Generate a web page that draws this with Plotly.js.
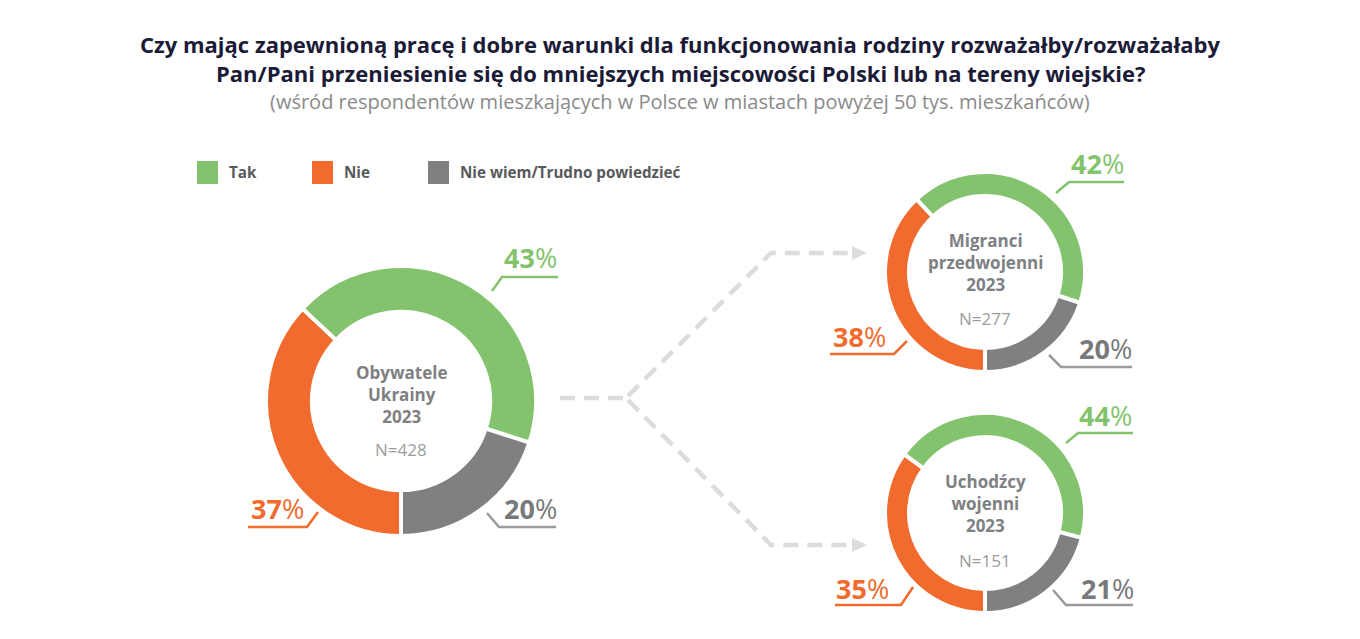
<!DOCTYPE html>
<html>
<head>
<meta charset="utf-8">
<script src="https://cdn.plot.ly/plotly-3.0.1.min.js"></script>
<style>
  html, body { margin: 0; padding: 0; background: #fff; }
  #chart { width: 1360px; height: 639px; }
</style>
</head>
<body>
<div id="chart"></div>
<script>
// Answer categories (legend order) and their colours
var categories = ["Tak", "Nie", "Nie wiem/Trudno powiedzieć"];
var catColors = ["#84c36e", "#f06b2d", "#7e8082"];

// Respondent groups
var groupNames = ["Obywatele<br>Ukrainy<br>2023", "Migranci<br>przedwojenni<br>2023", "Uchodźcy<br>wojenni<br>2023"];
var groupN = [428, 277, 151];

// Shares in % per group
var takValues = [43, 42, 44];
var nieValues = [37, 38, 35];
var nieWiemValues = [20, 20, 21];

var titleLines = [
  "Czy mając zapewnioną pracę i dobre warunki dla funkcjonowania rodziny rozważałby/rozważałaby",
  "Pan/Pani przeniesienie się do mniejszych miejscowości Polski lub na tereny wiejskie?"
];
var subtitle = "(wśród respondentów mieszkających w Polsce w miastach powyżej 50 tys. mieszkańców)";

var W = 1360, H = 639;
function px(x) { return x / W; }
function py(y) { return 1 - y / H; }

// donut placement (pixel centre, radius, hole)
var donuts = [
  {cx: 401, cy: 401, r: 135, hole: 0.66},
  {cx: 985, cy: 272, r: 100, hole: 0.76},
  {cx: 985, cy: 513, r: 100, hole: 0.76}
];

var data = donuts.map(function (d, i) {
  return {
    type: "pie",
    // clockwise from 6 o'clock: Nie, Tak, Nie wiem
    labels: [categories[1], categories[0], categories[2]],
    values: [nieValues[i], takValues[i], nieWiemValues[i]],
    marker: {colors: [catColors[1], catColors[0], catColors[2]], line: {color: "#fff", width: 4}},
    sort: false,
    direction: "clockwise",
    rotation: 180,
    hole: d.hole,
    textinfo: "none",
    hoverinfo: "none",
    showlegend: false,
    domain: {x: [px(d.cx - d.r), px(d.cx + d.r)], y: [py(d.cy + d.r), py(d.cy - d.r)]}
  };
});

var annotations = [];
var shapes = [];

// title, one annotation per line
var titleY = [44, 73];
titleLines.forEach(function (t, i) {
  annotations.push({
    xref: "paper", yref: "paper", x: 0.5, y: py(titleY[i]), xanchor: "center", yanchor: "middle",
    text: "<b>" + t + "</b>", showarrow: false,
    font: {family: "Open Sans", size: 22, color: "#1b1b38"}
  });
});
annotations.push({
  xref: "paper", yref: "paper", x: 0.5, y: py(101), xanchor: "center", yanchor: "middle",
  text: subtitle, showarrow: false, font: {family: "Open Sans", size: 20, color: "#8a8a8a"}
});

// legend
var legendX = [197, 312, 428];
categories.forEach(function (c, i) {
  shapes.push({type: "rect", xref: "paper", yref: "paper",
    x0: px(legendX[i]), x1: px(legendX[i] + 21), y0: py(184), y1: py(161),
    fillcolor: catColors[i], line: {width: 0}});
  annotations.push({xref: "paper", yref: "paper", x: px(legendX[i] + 30), y: py(172),
    xanchor: "left", yanchor: "middle", showarrow: false, text: "<b>" + c + "</b>",
    font: {family: "Open Sans", size: 15.2, color: "#58595b"}});
});

// centre texts
var nameY = [394, 263, 504];
var nY = [449, 318, 560];
donuts.forEach(function (d, i) {
  annotations.push({xref: "paper", yref: "paper", x: px(d.cx), y: py(nameY[i]),
    xanchor: "center", yanchor: "middle", showarrow: false, text: "<b>" + groupNames[i] + "</b>",
    font: {family: "Open Sans", size: 17, color: "#7e8082"}});
  annotations.push({xref: "paper", yref: "paper", x: px(d.cx), y: py(nY[i]),
    xanchor: "center", yanchor: "middle", showarrow: false, text: "N=" + groupN[i],
    font: {family: "Open Sans", size: 17, color: "#9d9d9d"}});
});

// percentage labels with leader lines
var labelCol = {tak: "#84c36e", nie: "#f06b2d", nw: "#77797b"};
var lineCol = {tak: "#84c36e", nie: "#f06b2d", nw: "#9b9b9b"};
var labels = [
  {v: takValues[0], k: "tak", tx: 502, ty: 257, path: [[492, 291], [502, 277], [558, 277]]},
  {v: nieValues[0], k: "nie", tx: 249, ty: 508, path: [[318, 512], [307, 527], [248, 527]]},
  {v: nieWiemValues[0], k: "nw", tx: 502, ty: 508, path: [[487, 513], [499, 527], [556, 527]]},
  {v: takValues[1], k: "tak", tx: 1069, ty: 164, path: [[1056, 193], [1069, 182], [1124, 182]]},
  {v: nieValues[1], k: "nie", tx: 831, ty: 337, path: [[907, 341], [894, 354], [830, 354]]},
  {v: nieWiemValues[1], k: "nw", tx: 1077, ty: 348, path: [[1049, 355], [1061, 367], [1132, 367]]},
  {v: takValues[2], k: "tak", tx: 1077, ty: 415, path: [[1066, 443], [1078, 433], [1133, 433]]},
  {v: nieValues[2], k: "nie", tx: 834, ty: 588, path: [[913, 587], [901, 605], [835, 605]]},
  {v: nieWiemValues[2], k: "nw", tx: 1079, ty: 588, path: [[1053, 590], [1066, 605], [1133, 605]]}
];
function pathOf(pts) {
  return pts.map(function (pt, j) { return (j ? "L" : "M") + px(pt[0]) + "," + py(pt[1]); }).join(" ");
}
labels.forEach(function (l) {
  annotations.push({xref: "paper", yref: "paper", x: px(l.tx), y: py(l.ty),
    xanchor: "left", yanchor: "middle", showarrow: false,
    text: "<b>" + l.v + "</b>%",
    font: {family: "Open Sans", size: 27, color: labelCol[l.k]}});
  shapes.push({type: "path", xref: "paper", yref: "paper", path: pathOf(l.path),
    line: {color: lineCol[l.k], width: 2.5}});
});

// dashed branching arrows
var dashLine = {color: "#dcdcdc", width: 4.5, dash: "15px,9px"};
shapes.push({type: "path", xref: "paper", yref: "paper", path: pathOf([[560, 398], [624, 398]]), line: dashLine});
shapes.push({type: "path", xref: "paper", yref: "paper", path: pathOf([[628, 396], [771, 253], [854, 253]]), line: dashLine});
shapes.push({type: "path", xref: "paper", yref: "paper", path: pathOf([[628, 400], [771, 545], [854, 545]]), line: dashLine});
[253, 545].forEach(function (y) {
  shapes.push({type: "path", xref: "paper", yref: "paper",
    path: pathOf([[852, y - 7], [867, y], [852, y + 7]]) + " Z",
    fillcolor: "#dcdcdc", line: {width: 0}});
});

var layout = {
  width: W, height: H,
  margin: {l: 0, r: 0, t: 0, b: 0},
  paper_bgcolor: "#fff",
  showlegend: false,
  annotations: annotations,
  shapes: shapes
};

Plotly.newPlot("chart", data, layout, {staticPlot: true});
</script>
</body>
</html>
